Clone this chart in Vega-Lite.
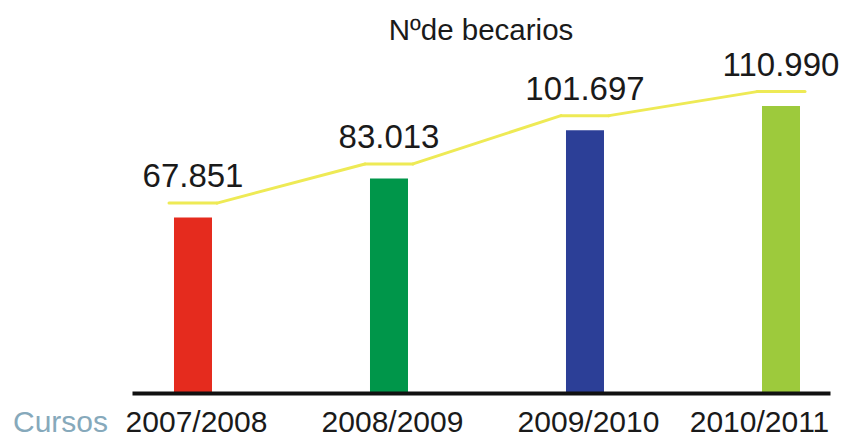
{
  "$schema": "https://vega.github.io/schema/vega-lite/v6.json",
  "width": 698,
  "height": 343,
  "autosize": {"type": "none"},
  "padding": {"left": 132, "right": 20, "top": 50, "bottom": 43},
  "background": "white",
  "config": {
    "view": {"stroke": null},
    "font": "Liberation Sans",
    "locale": {"number": {"decimal": ",", "thousands": ".", "grouping": [3], "currency": ["", " €"]}}
  },
  "title": {
    "text": "Nºde becarios",
    "fontSize": 29.5,
    "font": "Liberation Sans",
    "fontWeight": "normal",
    "color": "#1a1a1a",
    "anchor": "middle",
    "baseline": "alphabetic",
    "offset": 11,
    "dy": 31
  },
  "data": {
    "values": [
      {"Curso": "2007/2008", "Becarios": 67851},
      {"Curso": "2008/2009", "Becarios": 83013},
      {"Curso": "2009/2010", "Becarios": 101697},
      {"Curso": "2010/2011", "Becarios": 110990}
    ]
  },
  "encoding": {
    "x": {
      "field": "Curso",
      "type": "nominal",
      "sort": null,
      "scale": {"type": "point", "padding": 0.2806, "align": 0.5545},
      "axis": {
        "title": "Cursos",
        "titleFont": "Liberation Sans",
        "titleFontSize": 30,
        "titleFontWeight": "normal",
        "titleColor": "#86a9bb",
        "titleX": -72,
        "titleY": 38,
        "titleAlign": "center",
        "titleBaseline": "alphabetic",
        "titleAngle": 0,
        "labelFont": "Liberation Sans",
        "labelFontSize": 30,
        "labelColor": "#1a1a1a",
        "labelAngle": 0,
        "labelBaseline": "alphabetic",
        "labelPadding": 38,
        "labelOverlap": false,
        "labelOffset": {"condition": {"test": "datum.value === '2010/2011'", "value": -22}, "value": 3},
        "ticks": false,
        "tickSize": 0,
        "domainColor": "#111111",
        "domainWidth": 4,
        "grid": false,
        "zindex": 1
      }
    },
    "y": {
      "field": "Becarios",
      "type": "quantitative",
      "scale": {"domain": [0, 132700], "nice": false},
      "axis": null
    }
  },
  "layer": [
    {
      "mark": {"type": "bar", "width": 38},
      "encoding": {
        "color": {
          "field": "Curso",
          "type": "nominal",
          "scale": {"range": ["#e52b1e", "#00964a", "#2c3f97", "#9dca3c"]},
          "legend": null
        }
      }
    },
    {
      "mark": {"type": "rule", "xOffset": -24, "x2Offset": 24, "yOffset": -14.5, "strokeWidth": 3, "color": "#eeea55", "strokeCap": "round"},
      "encoding": {"x2": {"field": "Curso"}}
    },
    {
      "transform": [
        {"window": [{"op": "lead", "field": "Curso", "as": "next"}, {"op": "lead", "field": "Becarios", "as": "nextv"}], "sort": [{"field": "Curso"}]},
        {"filter": "datum.next != null"}
      ],
      "mark": {"type": "rule", "xOffset": 24, "x2Offset": -24, "yOffset": -14.5, "y2Offset": -14.5, "strokeWidth": 3, "color": "#eeea55", "strokeCap": "round"},
      "encoding": {"x2": {"field": "next"}, "y2": {"field": "nextv"}}
    },
    {
      "mark": {"type": "text", "dy": -30.5, "baseline": "alphabetic", "fontSize": 33, "color": "#1a1a1a", "font": "Liberation Sans"},
      "encoding": {"text": {"field": "Becarios", "type": "quantitative", "format": ",d"}}
    }
  ]
}
